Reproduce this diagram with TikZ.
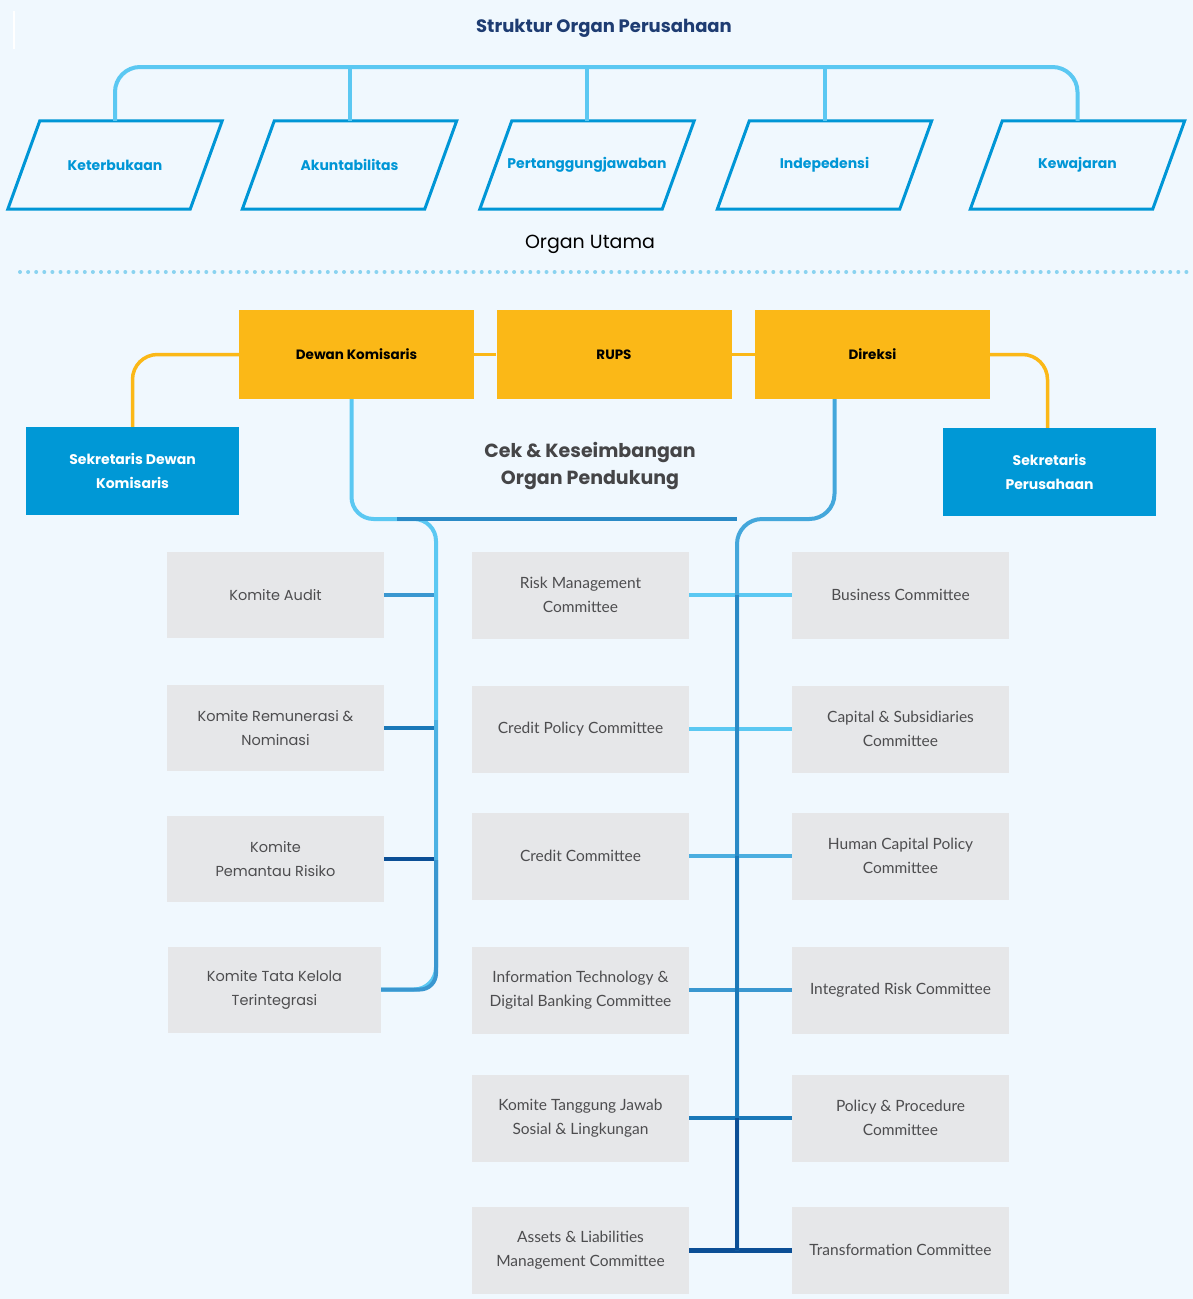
\documentclass[tikz,border=0pt]{standalone}
\usepackage{fontspec}
\setmainfont{Lato}
\newfontfamily\geo{Poppins}
\usetikzlibrary{calc}

\definecolor{bgblue}{HTML}{F0F8FE}
\definecolor{skyline}{HTML}{5BC8F2}
\definecolor{paraline}{HTML}{0096D6}
\definecolor{navy}{HTML}{1E3C72}
\definecolor{gold}{HTML}{FBB817}
\definecolor{secblue}{HTML}{0098D6}
\definecolor{boxgray}{HTML}{E6E7E9}
\definecolor{txtgray}{HTML}{4D4D4F}
\definecolor{dotblue}{HTML}{8AD3F0}
\definecolor{paleblue}{HTML}{4BAEE0}
\definecolor{midblue}{HTML}{3A97D0}
\definecolor{busblue}{HTML}{2A8AC6}
\definecolor{deepblue}{HTML}{1A78B8}
\definecolor{darkblue}{HTML}{0B4F96}

\tikzset{
  parabox/.style = {minimum width=214, minimum height=88, inner sep=0, text=paraline,
                    font=\geo\bfseries\fontsize{14}{17}\selectfont},
  paraedge/.style = {draw=paraline, line width=3, line join=miter},
  topbus/.style = {draw=skyline, line width=4},
  organ/.style = {fill=gold, minimum width=235, minimum height=89, inner sep=0,
                  font=\geo\bfseries\fontsize{13.5}{16}\selectfont},
  secbox/.style = {fill=secblue, text=white, minimum width=213, minimum height=88, inner sep=0,
                   align=center, font=\geo\bfseries\fontsize{14}{24}\selectfont},
  goldline/.style = {draw=gold, line width=3.5},
  bus/.style = {line width=4},
  kbox/.style = {fill=boxgray, text=txtgray, minimum width=217, minimum height=86, inner sep=0,
                 align=center, font=\geo\fontsize{14.5}{24}\selectfont},
  cbox/.style = {fill=boxgray, text=txtgray, minimum width=217, minimum height=87, inner sep=0,
                 align=center, font=\fontsize{15.5}{24}\selectfont},
}

\begin{document}
\begin{tikzpicture}[x=1pt, y=-1pt]
\useasboundingbox (0,0) rectangle (1193,1299);
\fill[bgblue] (0,0) rectangle (1193,1299);
\draw[white, line width=2] (14,11) -- (14,49);

% prinsip
\node[text=navy, font=\geo\bfseries\fontsize{18}{21}\selectfont] (title) at (604,28) {Struktur Organ Perusahaan};
\foreach \n/\x/\t in {p1/115/Keterbukaan, p2/349.5/Akuntabilitas, p3/587/Pertanggungjawaban,
                      p4/824.5/Indepedensi, p5/1077.5/Kewajaran}{
  \node[parabox] (\n) at (\x,165) {\t};
  \draw[paraedge] ([xshift=32]\n.north west) -- (\n.north east) -- ([xshift=-32]\n.south east)
                  -- (\n.south west) -- cycle;
}
\coordinate (tb) at (590,67);
\draw[topbus, rounded corners=25] (p1.north) |- (tb) -| (p5.north);
\foreach \n in {p2,p3,p4}
  \draw[topbus] (\n.north) -- (\n.north |- tb);

\node[font=\geo\fontsize{19}{22}\selectfont] (utama) at (590,244) {Organ Utama};
\draw[dotblue, line width=4, line cap=round, dash pattern=on 0 off 8.1] (20,272) -- (1193,272);

% organ utama
\node[organ] (dk) at (356.5,354.5) {Dewan Komisaris};
\node[organ] (rups) at (614,354.5) {RUPS};
\node[organ] (dir) at (872.5,354.5) {Direksi};
\node[secbox] (sdk) at (132.5,471) {Sekretaris Dewan\\Komisaris};
\node[secbox] (sp) at (1049.5,472) {Sekretaris\\Perusahaan};
\draw[goldline] (dk) -- (rups);
\draw[goldline] (rups) -- (dir);
\draw[goldline, rounded corners=25] (dk.west) -| (sdk.north);
\draw[goldline, rounded corners=25] (dir.east) -| ([xshift=-2]sp.north);

\node[text=txtgray!90!black, align=center, font=\geo\bfseries\fontsize{19}{27}\selectfont] (cek) at (590,466)
  {Cek \& Keseimbangan\\Organ Pendukung};

% komite
\node[kbox] (ka) at (275.5,595) {Komite Audit};
\node[kbox] (krn) at (275.5,728) {Komite Remunerasi \&\\Nominasi};
\node[kbox] (kpr) at (275.5,859) {Komite\\Pemantau Risiko};
\node[kbox, minimum width=213] (ktk) at (274.5,989.5) {Komite Tata Kelola\\Terintegrasi};

\node[cbox] (rm) at (580.5,595) {Risk Management\\Committee};
\node[cbox] (cp) at (580.5,729) {Credit Policy Committee};
\node[cbox] (cc) at (580.5,856) {Credit Committee};
\node[cbox] (itc) at (580.5,990) {Information Technology \&\\Digital Banking Committee};
\node[cbox] (ktj) at (580.5,1118) {Komite Tanggung Jawab\\Sosial \& Lingkungan};
\node[cbox] (alm) at (580.5,1250) {Assets \& Liabilities\\Management Committee};

\node[cbox] (bc) at (900.5,595) {Business Committee};
\node[cbox] (csc) at (900.5,729) {Capital \& Subsidiaries\\Committee};
\node[cbox] (hcp) at (900.5,856) {Human Capital Policy\\Committee};
\node[cbox] (irc) at (900.5,990) {Integrated Risk Committee};
\node[cbox] (ppc) at (900.5,1118) {Policy \& Procedure\\Committee};
\node[cbox] (tc) at (900.5,1250) {Transformation Committee};

\coordinate (lb) at (436,519);
\coordinate (rb) at (737,519);

\draw[bus, midblue] (ka.east) -- (ka.east -| lb);
\draw[bus, deepblue] (krn.east) -- (krn.east -| lb);
\draw[bus, darkblue] (kpr.east) -- (kpr.east -| lb);

\draw[bus, skyline] (rm) -- (bc);
\draw[bus, skyline] (cp) -- (csc);
\draw[bus, paleblue] (cc) -- (hcp);
\draw[bus, midblue] (itc) -- (irc);
\draw[bus, deepblue] (ktj) -- (ppc);
\draw[bus, darkblue, line width=5] (alm) -- (tc);

% garis komisaris
\draw[bus, skyline, rounded corners=22] ([xshift=-5]dk.south) |- (lb) |- (ktk.east);
\draw[bus, skyline!55!midblue] (436,720) -- (436,860);
\draw[bus, midblue, rounded corners=16] (436,860) |- (ktk.east);

% garis direksi
\draw[bus, paleblue!80!busblue, rounded corners=25] ([xshift=-38]dir.south) |- (rb) -- (rb |- tc);
\draw[bus, busblue] (rb |- ka) -- (rb |- cc);
\draw[bus, deepblue] (rb |- cc) -- (rb |- ktj);
\draw[bus, darkblue] (rb |- ktj) -- (rb |- tc);
\draw[bus, busblue] (397,519) -- (rb);
\end{tikzpicture}
\end{document}
